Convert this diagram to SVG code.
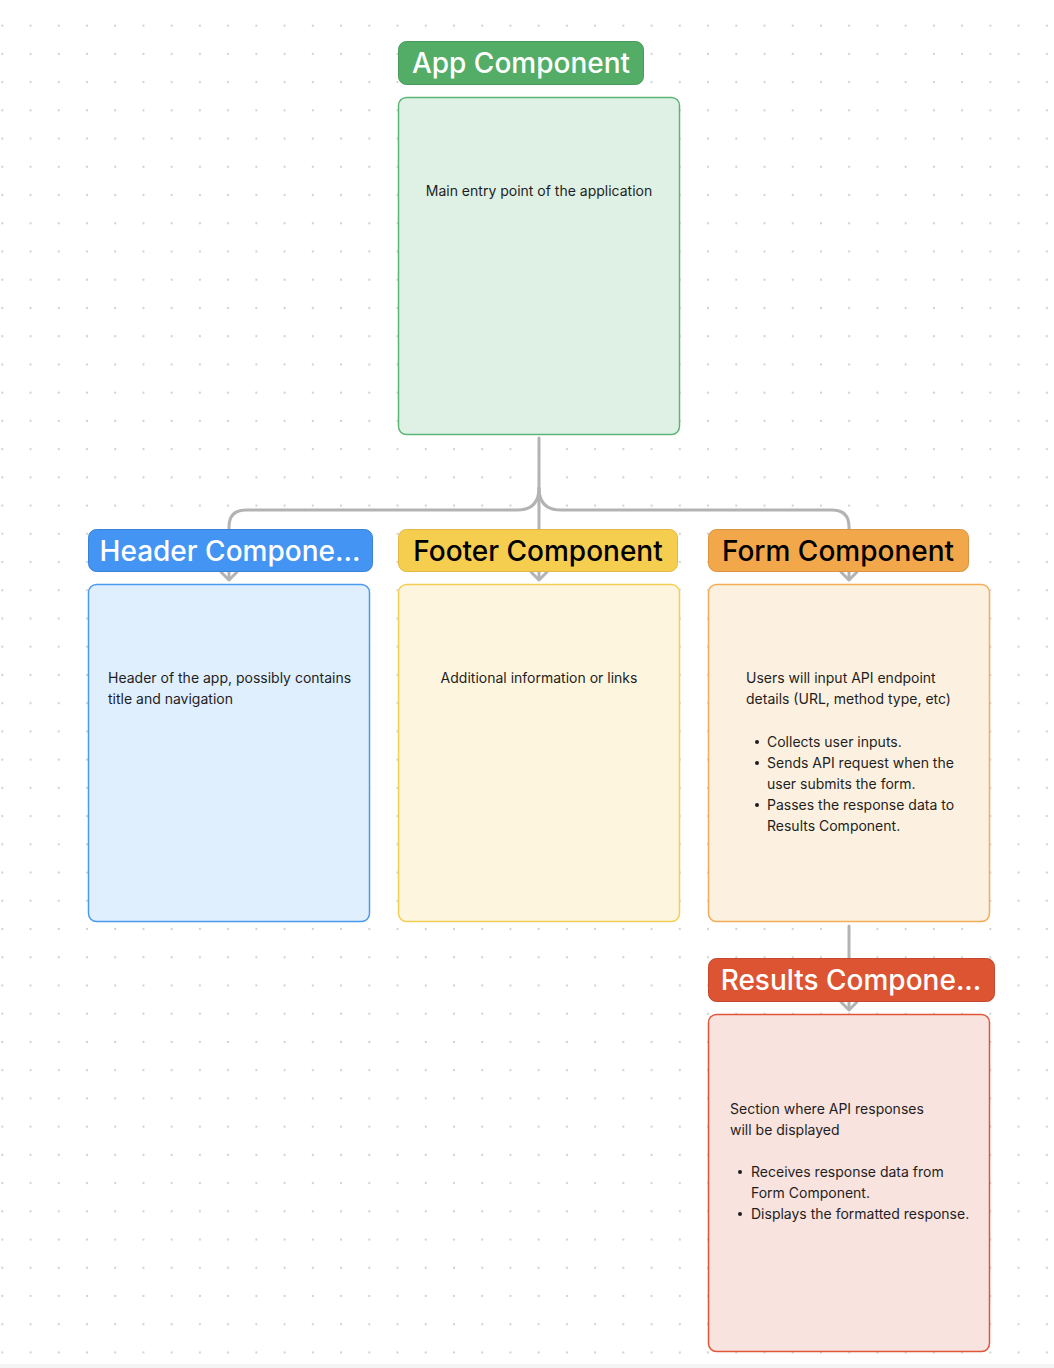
<svg xmlns="http://www.w3.org/2000/svg" width="1054" height="1368" viewBox="0 0 1054 1368">
<defs>
<pattern id="dots" x="2.3" y="25.7" width="28.23" height="28.23" patternUnits="userSpaceOnUse">
<circle cx="0" cy="0" r="1.1" fill="#cfcfcf"/>
<circle cx="28.23" cy="0" r="1.1" fill="#cfcfcf"/>
<circle cx="0" cy="28.23" r="1.1" fill="#cfcfcf"/>
<circle cx="28.23" cy="28.23" r="1.1" fill="#cfcfcf"/>
</pattern>
<style>
.title{font-family:Inter,"Liberation Sans",sans-serif;font-size:28px;font-weight:500;}
.body{font-family:Inter,"Liberation Sans",sans-serif;font-size:14px;fill:#1e1e1e;}
.bullet{fill:#1e1e1e;}
.conn{fill:none;stroke:#b3b3b3;stroke-width:3;stroke-linecap:round;stroke-linejoin:round;}
</style>
</defs>
<rect width="1054" height="1368" fill="#ffffff"/>
<rect width="1054" height="1368" fill="url(#dots)"/>
<rect x="0" y="1364" width="1054" height="4" fill="#f4f4f4"/>

<g id="connectors">
<path class="conn" d="M539 438 V488 Q539 510 517 510 H246 Q229 510 229 527 V578"/>
<path class="conn" d="M539 488 Q539 510 561 510 H832 Q849 510 849 527 V578"/>
<path class="conn" d="M539 488 V578"/>
<path class="conn" d="M849 926 V1008"/>
<path class="conn" d="M221 572 L229 580 L237 572"/>
<path class="conn" d="M531 572 L539 580 L547 572"/>
<path class="conn" d="M841 572 L849 580 L857 572"/>
<path class="conn" d="M841 1002 L849 1010 L857 1002"/>
</g>

<g id="app">
<rect x="398.5" y="97.5" width="281" height="337" rx="8" fill="#dff1e5" stroke="#5db575" stroke-width="1.5"/>
<rect x="398.5" y="41.5" width="245" height="43" rx="8" fill="#53ad67" stroke="#479a5b" stroke-width="1"/>
<text class="title" x="521" y="73" text-anchor="middle" fill="#ffffff">App Component</text>
<text class="body" x="539" y="196" text-anchor="middle">Main entry point of the application</text>
</g>

<g id="header">
<rect x="88.5" y="584.5" width="281" height="337" rx="8" fill="#e0effe" stroke="#4a9af0" stroke-width="1.5"/>
<rect x="88.5" y="529.5" width="284" height="42" rx="8" fill="#4494f3" stroke="#3a82d8" stroke-width="1"/>
<text class="title" x="230" y="561" text-anchor="middle" fill="#ffffff">Header Compone...</text>
<text class="body" x="108" y="683">Header of the app, possibly contains</text>
<text class="body" x="108" y="704">title and navigation</text>
</g>

<g id="footer">
<rect x="398.5" y="584.5" width="281" height="337" rx="8" fill="#fdf5de" stroke="#f5cf55" stroke-width="1.5"/>
<rect x="398.5" y="529.5" width="279" height="42" rx="8" fill="#f5cd4f" stroke="#e0b843" stroke-width="1"/>
<text class="title" x="538" y="561" text-anchor="middle" fill="#000000">Footer Component</text>
<text class="body" x="539" y="683" text-anchor="middle">Additional information or links</text>
</g>

<g id="form">
<rect x="708.5" y="584.5" width="281" height="337" rx="8" fill="#fcf1e0" stroke="#f2ad55" stroke-width="1.5"/>
<rect x="708.5" y="529.5" width="260" height="42" rx="8" fill="#f2a84a" stroke="#d99440" stroke-width="1"/>
<text class="title" x="838" y="561" text-anchor="middle" fill="#000000">Form Component</text>
<text class="body" x="746" y="683">Users will input API endpoint</text>
<text class="body" x="746" y="704">details (URL, method type, etc)</text>
<circle class="bullet" cx="757" cy="742" r="2"/>
<text class="body" x="767" y="747">Collects user inputs.</text>
<circle class="bullet" cx="757" cy="763" r="2"/>
<text class="body" x="767" y="768">Sends API request when the</text>
<text class="body" x="767" y="789">user submits the form.</text>
<circle class="bullet" cx="757" cy="805" r="2"/>
<text class="body" x="767" y="810">Passes the response data to</text>
<text class="body" x="767" y="831">Results Component.</text>
</g>

<g id="results">
<rect x="708.5" y="1014.5" width="281" height="337" rx="8" fill="#f8e3df" stroke="#e0553a" stroke-width="1.5"/>
<rect x="708.5" y="958.5" width="286" height="43" rx="8" fill="#dd5433" stroke="#c4482b" stroke-width="1"/>
<text class="title" x="851" y="990" text-anchor="middle" fill="#ffffff">Results Compone...</text>
<text class="body" x="730" y="1114">Section where API responses</text>
<text class="body" x="730" y="1135">will be displayed</text>
<circle class="bullet" cx="740" cy="1172" r="2"/>
<text class="body" x="751" y="1177">Receives response data from</text>
<text class="body" x="751" y="1198">Form Component.</text>
<circle class="bullet" cx="740" cy="1214" r="2"/>
<text class="body" x="751" y="1219">Displays the formatted response.</text>
</g>
</svg>
